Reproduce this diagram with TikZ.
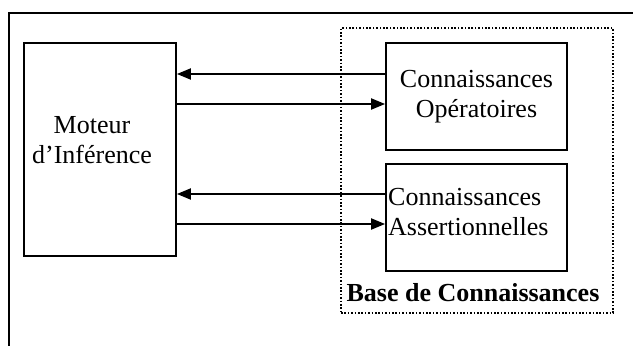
\documentclass[tikz,border=0pt]{standalone}
\usepackage{fontspec}
\setmainfont{Liberation Serif}
\usetikzlibrary{arrows.meta, positioning, calc}

\begin{document}
\begin{tikzpicture}[x=1pt, y=-1pt,
    every node/.style={font=\fontsize{26}{30}\selectfont},
    blockbox/.style={draw, line width=1.8pt, inner sep=0pt},
    kbbox/.style={draw, line width=1.6pt, dash pattern=on 1.6pt off 1.8pt,
                 minimum width=272pt, minimum height=285pt, inner sep=0pt},
    flow/.style={-{Triangle[length=14pt, width=11pt]}, line width=2pt}
]
    \useasboundingbox (0,0) rectangle (633,346);

    % Outer frame
    \draw[line width=2.2pt] (9,346) -- (9,13) -- (633,13);

    \node[kbbox] (kb) at (477,170.5) {};

    \node[blockbox, minimum width=152pt, minimum height=213pt] (moteur) at (100,149.5) {};
    \node[align=center] (moteurtxt) at (92,140) {Moteur\\d'Inférence};

    \node[blockbox, minimum width=181pt, minimum height=107pt, align=center] (op) at (476.5,96.5)
        {Connaissances\\Opératoires};

    \node[blockbox, minimum width=181pt, minimum height=107pt] (as) at (476.5,217.5) {};
    \node[align=left, anchor=west, inner sep=0pt] (astxt) at (388,212)
        {Connaissances\\Assertionnelles};

    \node[font=\fontsize{26}{30}\selectfont\bfseries] (base) at (473,293) {Base de Connaissances};

    % Arrows
    \draw[flow] ([yshift=22.5pt]op.west) -- ([yshift=22.5pt]op.west -| moteur.east);
    \draw[flow] ([yshift=-7.5pt]op.west -| moteur.east) -- ([yshift=-7.5pt]op.west);
    \draw[flow] ([yshift=23.5pt]as.west) -- ([yshift=23.5pt]as.west -| moteur.east);
    \draw[flow] ([yshift=-6.5pt]as.west -| moteur.east) -- ([yshift=-6.5pt]as.west);
\end{tikzpicture}
\end{document}
